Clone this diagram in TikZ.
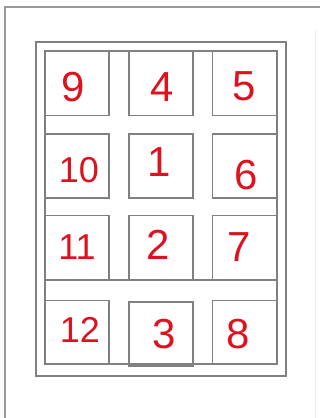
\documentclass[tikz,border=0pt]{standalone}
\usepackage{fontspec}
\setmainfont{Liberation Sans}
\usetikzlibrary{positioning}
\definecolor{pen}{RGB}{222,18,30}
\definecolor{edge}{RGB}{128,128,128}

\begin{document}
\begin{tikzpicture}[
        x=1pt, y=-1pt,
        cell/.style={
            rectangle,
            draw=edge,
            line width=1.2pt,
            minimum width=64pt,
            minimum height=64pt,
            inner sep=0pt
        },
        digit/.style={
            text=pen,
            inner sep=0pt,
            font=\fontsize{42}{42}\selectfont
        },
        wide/.style={
            digit,
            font=\fontsize{36}{36}\selectfont
        },
        frameline/.style={
            draw=edge,
            line width=1.2pt
        },
        sheet/.style={
            draw=black!40,
            line width=1.2pt
        }
    ]
    \useasboundingbox (0,0) rectangle (320,418);

    % Sheet edges
    \draw[sheet] (5,418) -- (5,7) -- (320,7);
    \draw[draw=black!8] (315,30) -- (315,418);

    % Outer and inner frames
    \draw[frameline] (36,42) rectangle (286,376);
    \draw[frameline] (45,51) rectangle (277,364);
    \draw[frameline] (45,280) -- (277,280);

    % Row 1
    \node[cell, label={[digit, xshift=-4pt, yshift=-4pt]center:9}] (c9) at (77,83.5) {};
    \node[cell, label={[digit, xshift=1pt, yshift=-4pt]center:4}] (c4) at (161,83.5) {};
    \node[cell, label={[digit, yshift=-3pt]center:5}] (c5) at (244.5,83.5) {};

    % Row 2
    \node[cell, label={[wide, xshift=2pt, yshift=-4pt]center:10}] (c10) at (77,166) {};
    \node[cell, label={[digit, xshift=-2pt, yshift=4pt]center:1}] (c1) at (161,166) {};
    \node[cell, label={[digit, xshift=2pt, yshift=-9pt]center:6}] (c6) at (244.5,166) {};

    % Row 3
    \node[cell, label={[wide]center:11}] (c11) at (77,247.5) {};
    \node[cell, label={[digit, xshift=-3pt, yshift=3pt]center:2}] (c2) at (161,247.5) {};
    \node[cell, label={[digit, xshift=-5pt]center:7}] (c7) at (244.5,247.5) {};

    % Row 4
    \node[cell, label={[wide, xshift=3pt, yshift=3pt]center:12}] (c12) at (77,332.5) {};
    \node[cell, label={[digit, xshift=3pt]center:3}] (c3) at (161,334) {};
    \node[cell, label={[digit, xshift=-6pt, yshift=-2pt]center:8}] (c8) at (244.5,332.5) {};

\end{tikzpicture}
\end{document}
